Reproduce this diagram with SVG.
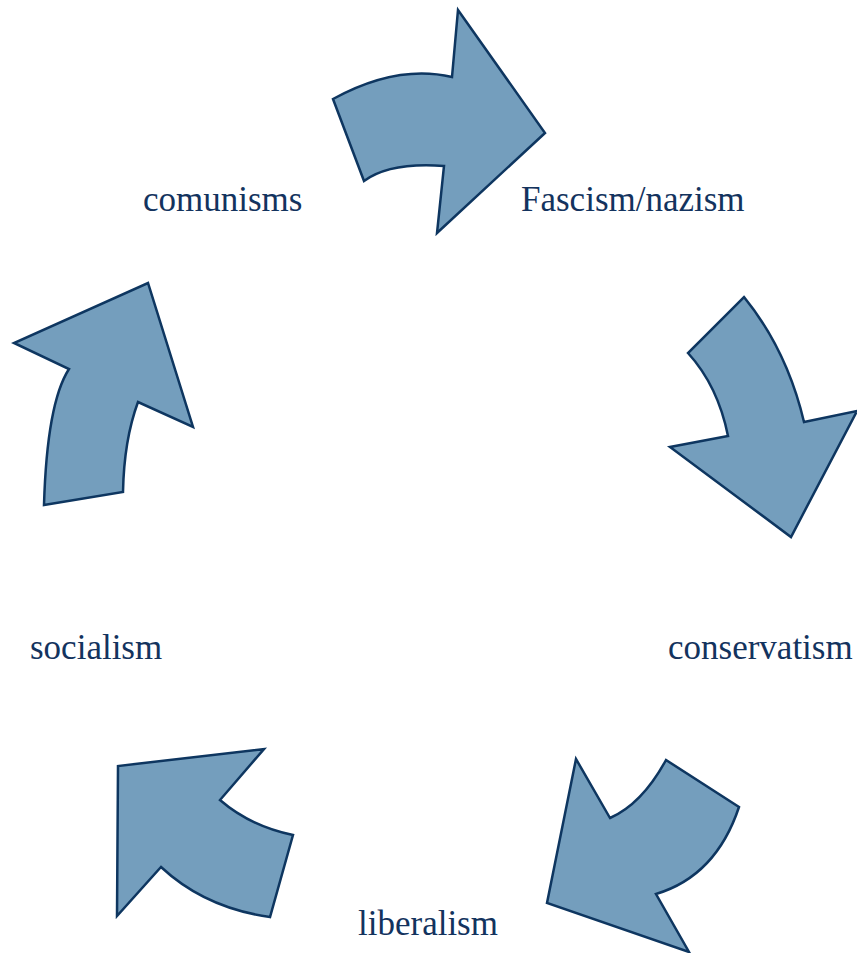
<svg xmlns="http://www.w3.org/2000/svg" width="857" height="953" viewBox="0 0 857 953">
<style>
.arrow{fill:#749EBD;stroke:#0E3660;stroke-width:2.5;stroke-linejoin:miter}
.lbl{font-family:"Liberation Serif","Times New Roman",serif;font-size:35px;fill:#13335E}
</style>
<rect width="857" height="953" fill="#ffffff"/>
<g id="connectors">
<path id="arrow-top" class="arrow" d="M333,99 Q397,64 452,77 L458,10 L545,133 L437,233 L444,166 Q390,162 364,181 Z"/>
<path id="arrow-right" class="arrow" d="M744,297 Q787,350 804,422 L857,411 L791,537 L670,447 L728,436 Q718,386 688,353 Z"/>
<path id="arrow-bottomright" class="arrow" d="M739,807 Q716,876 656,894 L689,952 L547,903 L576,759 L610,818 Q642,804 666,760 Z"/>
<path id="arrow-bottomleft" class="arrow" d="M270,917 Q205,908 161,867 L117,916 L118,766 L264,749 L220,800 Q250,826 293,835 Z"/>
<path id="arrow-left" class="arrow" d="M44,505 Q47,403 69,369 L14,343 L148,283 L193,427 L138,402 Q124,440 123,492 Z"/>
</g>
<g id="node-comunisms"><text class="lbl" x="143" y="211">comunisms</text></g>
<g id="node-fascism"><text class="lbl" x="521" y="211">Fascism/nazism</text></g>
<g id="node-conservatism"><text class="lbl" x="668" y="659">conservatism</text></g>
<g id="node-liberalism"><text class="lbl" x="358" y="935">liberalism</text></g>
<g id="node-socialism"><text class="lbl" x="30" y="659">socialism</text></g>
</svg>
